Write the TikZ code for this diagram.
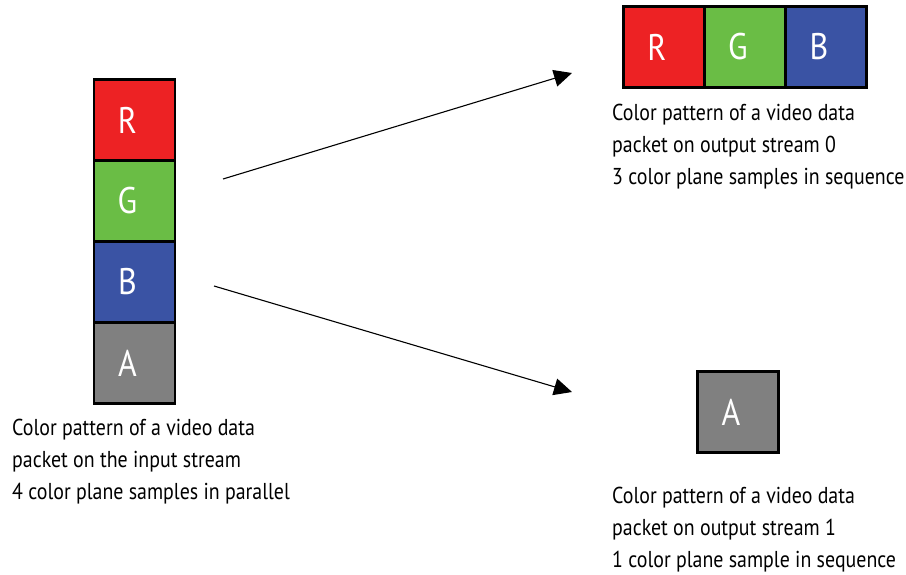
\documentclass[tikz,border=0pt]{standalone}
\usepackage{fontspec}
\setmainfont[FakeStretch=0.865]{PT Sans}
\usetikzlibrary{arrows.meta}
\definecolor{cR}{HTML}{ED2224}
\definecolor{cG}{HTML}{6ABD45}
\definecolor{cB}{HTML}{3A53A4}
\definecolor{cA}{HTML}{808080}
\newcommand{\smpl}[1]{\hspace*{-14pt}#1}
\tikzset{
  sample/.style={draw=black, line width=2.2pt, minimum width=81pt, minimum height=81pt, inner sep=0pt, text=white, font=\fontsize{37}{37}\selectfont},
  caption/.style={anchor=base west, align=left, inner sep=0pt, font=\fontsize{23}{32}\selectfont},
  flow/.style={line width=1.1pt, -{Triangle[length=18pt,width=17pt]}}
}
\begin{document}
\begin{tikzpicture}[x=1pt,y=-1pt]
\useasboundingbox (0,0) rectangle (906,575);
% input stream
\node[sample, fill=cR] (iR) at (134.5,120) {\smpl{R}};
\node[sample, fill=cG] (iG) at (134.5,201) {\smpl{G}};
\node[sample, fill=cB] (iB) at (134.5,282) {\smpl{B}};
\node[sample, fill=cA] (iA) at (134.5,363) {\smpl{A}};
\node[caption] (tin) at (12,499) {Color pattern of a video data\\packet on the input stream\\4 color plane samples in parallel};
% output stream 0
\node[sample, fill=cR] (oR) at (664,47) {\smpl{R}};
\node[sample, fill=cG] (oG) at (745,47) {\smpl{G}};
\node[sample, fill=cB] (oB) at (826,47) {\smpl{B}};
\node[caption] (t0) at (612,185) {Color pattern of a video data\\packet on output stream 0\\3 color plane samples in sequence};
% output stream 1
\node[sample, fill=cA] (oA) at (738,412) {\smpl{A}};
\node[caption] (t1) at (612,567) {Color pattern of a video data\\packet on output stream 1\\1 color plane sample in sequence};
% arrows
\coordinate (s0) at (223,179);
\coordinate (e0) at (572,73);
\coordinate (s1) at (214,286);
\coordinate (e1) at (572,392);
\draw[flow] (s0) -- (e0);
\draw[flow] (s1) -- (e1);
\end{tikzpicture}
\end{document}
